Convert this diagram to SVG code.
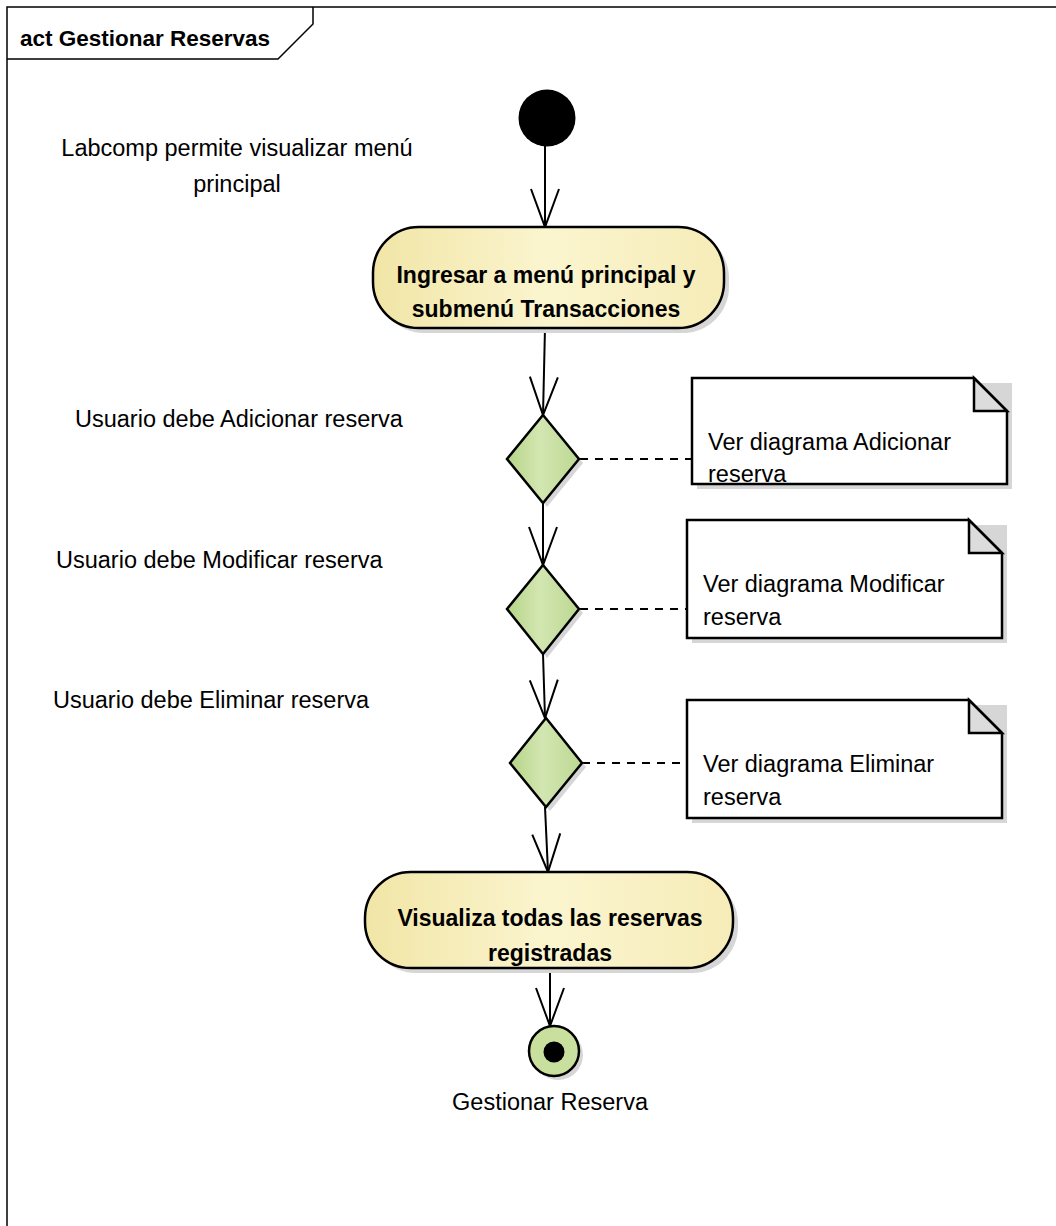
<svg xmlns="http://www.w3.org/2000/svg" width="1056" height="1226" viewBox="0 0 1056 1226">
<style>
  text { font-family: "Liberation Sans", Arial, sans-serif; fill: #000; }
  .lbl { font-size: 23.5px; }
  .bold { font-size: 23px; font-weight: bold; }
  .ttl { font-size: 22.5px; font-weight: bold; }
  .edge { fill: none; stroke: #000; stroke-width: 2; marker-end: url(#open); }
  .dash { fill: none; stroke: #000; stroke-width: 2; stroke-dasharray: 8 7; }
  .shadow { fill: #d6d6d6; stroke: none; }
  .outline { stroke: #000; stroke-width: 2.5; }
</style>
<defs>
  <marker id="open" markerUnits="userSpaceOnUse" markerWidth="44" markerHeight="34" viewBox="-41 -17 44 34" refX="0" refY="0" orient="auto">
    <path d="M-38,-14 L0,0 L-38,14" fill="none" stroke="#000" stroke-width="2"/>
  </marker>
  <linearGradient id="actFill" x1="0" y1="0" x2="1" y2="0">
    <stop offset="0" stop-color="#f1e5a6"/>
    <stop offset="0.5" stop-color="#fbf5cf"/>
    <stop offset="1" stop-color="#f6ecb8"/>
  </linearGradient>
  <linearGradient id="decFill" x1="0" y1="0" x2="1" y2="0">
    <stop offset="0" stop-color="#b5d487"/>
    <stop offset="0.45" stop-color="#d3e6b1"/>
    <stop offset="1" stop-color="#bcd892"/>
  </linearGradient>
</defs>
<rect x="0" y="0" width="1056" height="1226" fill="#fff"/>

<g id="frame">
  <path d="M7,1226 L7,7 L1056,7" fill="none" stroke="#000" stroke-width="1.5"/>
  <path d="M7,59 L278,59 L313,24 L313,7" fill="none" stroke="#000" stroke-width="1.5"/>
  <text class="ttl" x="20" y="46">act Gestionar Reservas</text>
</g>

<g id="connectors">
  <line class="edge" x1="545" y1="146" x2="545" y2="227"/>
  <line class="edge" x1="545" y1="328" x2="543" y2="415"/>
  <line class="edge" x1="543" y1="503" x2="543" y2="565"/>
  <line class="edge" x1="543" y1="654" x2="545" y2="718"/>
  <line class="edge" x1="545" y1="807" x2="548" y2="872"/>
  <line class="edge" x1="550" y1="968" x2="550" y2="1026"/>
  <line class="dash" x1="580" y1="459" x2="692" y2="459"/>
  <line class="dash" x1="580" y1="609" x2="687" y2="609"/>
  <line class="dash" x1="582" y1="763" x2="687" y2="763"/>
</g>

<g id="initial">
  <circle cx="547" cy="118" r="28.5" fill="#000"/>
</g>

<g id="lbl-initial">
  <text class="lbl" x="237" y="156" text-anchor="middle">Labcomp permite visualizar menú</text>
  <text class="lbl" x="237" y="192" text-anchor="middle">principal</text>
</g>

<g id="action-ingresar">
  <rect class="shadow" x="378" y="232" width="351" height="101" rx="46" ry="46"/>
  <rect class="outline" x="373" y="227" width="351" height="101" rx="46" ry="46" fill="url(#actFill)"/>
  <text class="bold" x="546" y="283" text-anchor="middle">Ingresar a menú principal y</text>
  <text class="bold" x="546" y="317" text-anchor="middle">submenú Transacciones</text>
</g>

<g id="decision-adicionar">
  <polygon class="shadow" points="547,419 583,463 547,507 511,463"/>
  <polygon class="outline" points="543,415 579,459 543,503 507,459" fill="url(#decFill)"/>
</g>
<g id="lbl-adicionar">
  <text class="lbl" x="75" y="427">Usuario debe Adicionar reserva</text>
</g>
<g id="note-adicionar">
  <polygon class="shadow" points="697,383 1012,383 1012,489 697,489"/>
  <polygon points="692,378 974,378 1007,411 1007,484 692,484" fill="#fff" stroke="#000" stroke-width="2.5"/>
  <polygon points="974,378 974,411 1007,411" fill="#dcdcdc" stroke="#000" stroke-width="2.5" stroke-linejoin="miter"/>
  <text class="lbl" x="708" y="450">Ver diagrama Adicionar</text>
  <text class="lbl" x="708" y="482">reserva</text>
</g>

<g id="decision-modificar">
  <polygon class="shadow" points="547,569 583,613 547,658 511,613"/>
  <polygon class="outline" points="543,565 579,609 543,654 507,609" fill="url(#decFill)"/>
</g>
<g id="lbl-modificar">
  <text class="lbl" x="56" y="568">Usuario debe Modificar reserva</text>
</g>
<g id="note-modificar">
  <polygon class="shadow" points="692,525 1007,525 1007,643 692,643"/>
  <polygon points="687,520 969,520 1002,553 1002,638 687,638" fill="#fff" stroke="#000" stroke-width="2.5"/>
  <polygon points="969,520 969,553 1002,553" fill="#dcdcdc" stroke="#000" stroke-width="2.5"/>
  <text class="lbl" x="703" y="592">Ver diagrama Modificar</text>
  <text class="lbl" x="703" y="625">reserva</text>
</g>

<g id="decision-eliminar">
  <polygon class="shadow" points="550,722 586,767 550,811 514,767"/>
  <polygon class="outline" points="546,718 582,763 546,807 510,763" fill="url(#decFill)"/>
</g>
<g id="lbl-eliminar">
  <text class="lbl" x="53" y="708">Usuario debe Eliminar reserva</text>
</g>
<g id="note-eliminar">
  <polygon class="shadow" points="692,705 1007,705 1007,823 692,823"/>
  <polygon points="687,700 969,700 1002,733 1002,818 687,818" fill="#fff" stroke="#000" stroke-width="2.5"/>
  <polygon points="969,700 969,733 1002,733" fill="#dcdcdc" stroke="#000" stroke-width="2.5"/>
  <text class="lbl" x="703" y="772">Ver diagrama Eliminar</text>
  <text class="lbl" x="703" y="805">reserva</text>
</g>

<g id="action-visualiza">
  <rect class="shadow" x="370" y="877" width="368" height="96" rx="46" ry="46"/>
  <rect class="outline" x="365" y="872" width="368" height="96" rx="46" ry="46" fill="url(#actFill)"/>
  <text class="bold" x="550" y="926" text-anchor="middle">Visualiza todas las reservas</text>
  <text class="bold" x="550" y="961" text-anchor="middle">registradas</text>
</g>

<g id="final">
  <circle class="shadow" cx="558" cy="1055" r="25"/>
  <circle cx="554" cy="1051" r="25" fill="#c8df9e" stroke="#000" stroke-width="2.5"/>
  <circle cx="554" cy="1052" r="10.5" fill="#000"/>
  <text class="lbl" x="550" y="1110" text-anchor="middle">Gestionar Reserva</text>
</g>
</svg>
